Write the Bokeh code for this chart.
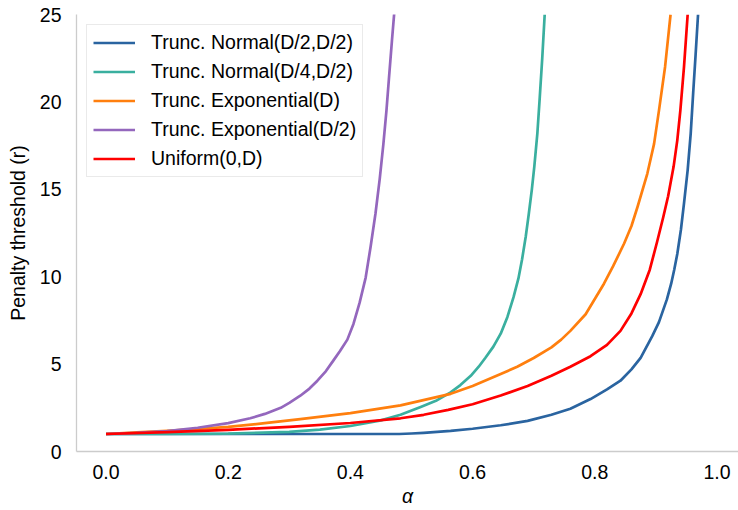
from bokeh.plotting import figure
from bokeh.models import Range1d, FixedTicker, Legend, LegendItem
from bokeh.embed import file_html
from bokeh.resources import INLINE

# ---- data ----
alpha_norm_half = [0, 0.2, 0.4, 0.45, 0.48, 0.5, 0.52, 0.564, 0.6, 0.646, 0.69, 0.729, 0.76, 0.793,
                   0.82, 0.842, 0.86, 0.875, 0.894, 0.905, 0.91, 0.918, 0.925, 0.930, 0.935, 0.941,
                   0.946, 0.952, 0.957, 0.961, 0.965, 0.969]
r_norm_half = [1.0, 1.0, 1.0, 1.0, 1.0, 1.03, 1.07, 1.18, 1.3, 1.5, 1.75, 2.1, 2.45, 3.0,
               3.55, 4.05, 4.7, 5.36, 6.6, 7.4, 7.9, 8.7, 9.6, 10.4, 11.3, 12.7,
               14.2, 16.1, 18.2, 20.5, 22.7, 25]

alpha_norm_quarter = [0, 0.1, 0.2, 0.3, 0.35, 0.4, 0.45, 0.482, 0.515, 0.54, 0.564, 0.58, 0.597,
                      0.61, 0.621, 0.634, 0.646, 0.657, 0.667, 0.675, 0.681, 0.687, 0.692, 0.697,
                      0.701, 0.706, 0.710, 0.714, 0.718]
r_norm_quarter = [1.0, 1.0, 1.02, 1.12, 1.25, 1.46, 1.78, 2.1, 2.55, 2.9, 3.38, 3.8, 4.33,
                  4.85, 5.36, 6.0, 6.74, 7.7, 8.83, 9.9, 11.0, 12.3, 13.6, 15.0,
                  16.3, 18.2, 20.3, 22.5, 25]

alpha_exp_d = [0, 0.05, 0.1, 0.155, 0.2, 0.26, 0.318, 0.4, 0.482, 0.564, 0.6, 0.646, 0.673, 0.7,
               0.729, 0.745, 0.76, 0.785, 0.815, 0.83, 0.848, 0.860, 0.870, 0.886, 0.897, 0.905,
               0.915, 0.924]
r_exp_d = [1.0, 1.09, 1.18, 1.3, 1.41, 1.62, 1.85, 2.2, 2.64, 3.3, 3.75, 4.43, 4.85, 5.35,
           5.96, 6.4, 6.9, 7.85, 9.6, 10.6, 11.9, 12.9, 14.0, 15.9, 17.6, 19.5,
           22.0, 25]

alpha_exp_half = [0, 0.05, 0.1, 0.15, 0.2, 0.236, 0.26, 0.286, 0.30, 0.318, 0.333, 0.346, 0.36,
                  0.372, 0.383, 0.395, 0.405, 0.415, 0.425, 0.433, 0.441, 0.448, 0.454, 0.459,
                  0.463, 0.468, 0.472]
r_exp_half = [1.0, 1.06, 1.17, 1.36, 1.62, 1.9, 2.15, 2.5, 2.78, 3.19, 3.6, 4.05, 4.6,
              5.2, 5.75, 6.4, 7.3, 8.5, 9.95, 11.7, 13.6, 15.6, 17.6, 19.5,
              21.3, 23.5, 25.2]

alpha_unif = [0, 0.1, 0.2, 0.3, 0.4, 0.482, 0.52, 0.56, 0.6, 0.646, 0.69, 0.729, 0.76, 0.793,
              0.82, 0.842, 0.86, 0.875, 0.89, 0.902, 0.912, 0.92, 0.929, 0.935, 0.940, 0.946, 0.952]
r_unif = [1.0, 1.11, 1.24, 1.41, 1.63, 1.9, 2.1, 2.38, 2.7, 3.2, 3.75, 4.33, 4.85, 5.45,
          6.1, 6.9, 7.9, 9.0, 10.4, 12.0, 13.4, 14.6, 16.3, 17.8, 19.5, 22.0, 25]

series_labels = ["Trunc. Normal(D/2,D/2)", "Trunc. Normal(D/4,D/2)", "Trunc. Exponential(D)",
                 "Trunc. Exponential(D/2)", "Uniform(0,D)"]
series_colors = ["#2a64a0", "#3aaf9f", "#ff7f0e", "#9467bd", "#ff0000"]

x_ticks = [0.0, 0.2, 0.4, 0.6, 0.8, 1.0]
x_tick_labels = ["0.0", "0.2", "0.4", "0.6", "0.8", "1.0"]
y_ticks = [0, 5, 10, 15, 20, 25]
y_tick_labels = ["0", "5", "10", "15", "20", "25"]

FONT = "Liberation Sans"
FS = "19.5px"

p = figure(width=738, height=510, output_backend="svg", toolbar_location=None,
           x_range=Range1d(-0.0483, 1.0352), y_range=Range1d(0, 25),
           min_border_left=76, min_border_right=0, min_border_top=14, min_border_bottom=59)
p.outline_line_color = None
p.grid.visible = False
p.background_fill_color = "white"
p.border_fill_color = "white"

xs = [alpha_norm_half, alpha_norm_quarter, alpha_exp_d, alpha_exp_half, alpha_unif]
ys = [r_norm_half, r_norm_quarter, r_exp_d, r_exp_half, r_unif]
items = []
for x, y, lab, col in zip(xs, ys, series_labels, series_colors):
    r = p.line(x, y, line_color=col, line_width=2.7, line_join="round")
    items.append(LegendItem(label=lab, renderers=[r]))

p.xaxis.ticker = FixedTicker(ticks=x_ticks)
p.yaxis.ticker = FixedTicker(ticks=y_ticks)
xo = {}
for t, l in zip(x_ticks, x_tick_labels):
    xo[t] = l
    xo[str(t)] = l
p.xaxis.major_label_overrides = xo
yo = {}
for t, l in zip(y_ticks, y_tick_labels):
    yo[t] = l
    yo[str(t)] = l
p.yaxis.major_label_overrides = yo

for ax in (p.xaxis[0], p.yaxis[0]):
    ax.axis_line_color = "#cccccc"
    ax.axis_line_width = 1.3
    ax.major_tick_line_color = None
    ax.minor_tick_line_color = None
    ax.major_tick_in = 0
    ax.major_tick_out = 0
    ax.minor_tick_in = 0
    ax.minor_tick_out = 0
    ax.major_label_text_font = FONT
    ax.major_label_text_font_size = FS
    ax.major_label_text_color = "#000000"
    ax.axis_label_text_font = FONT
    ax.axis_label_text_font_size = FS
    ax.axis_label_text_color = "#000000"

p.yaxis.major_label_standoff = 15
p.xaxis.major_label_standoff = 13
p.yaxis.axis_label = "Penalty threshold (r)"
p.yaxis.axis_label_standoff = 8
p.yaxis.axis_label_text_font_style = "normal"
p.xaxis.axis_label = "α"
p.xaxis.axis_label_standoff = 3
p.xaxis.axis_label_text_font_style = "italic"

legend = Legend(items=items, location="top_left", margin=10, padding=6, spacing=6,
                label_height=21, glyph_height=21, glyph_width=42, label_standoff=16,
                label_text_font=FONT, label_text_font_size=FS, label_text_color="#000000",
                border_line_color="#d6d6d6", border_line_width=1.3,
                background_fill_color="white", background_fill_alpha=1.0)
p.add_layout(legend)

open("out.html", "w").write(file_html(p, INLINE))
